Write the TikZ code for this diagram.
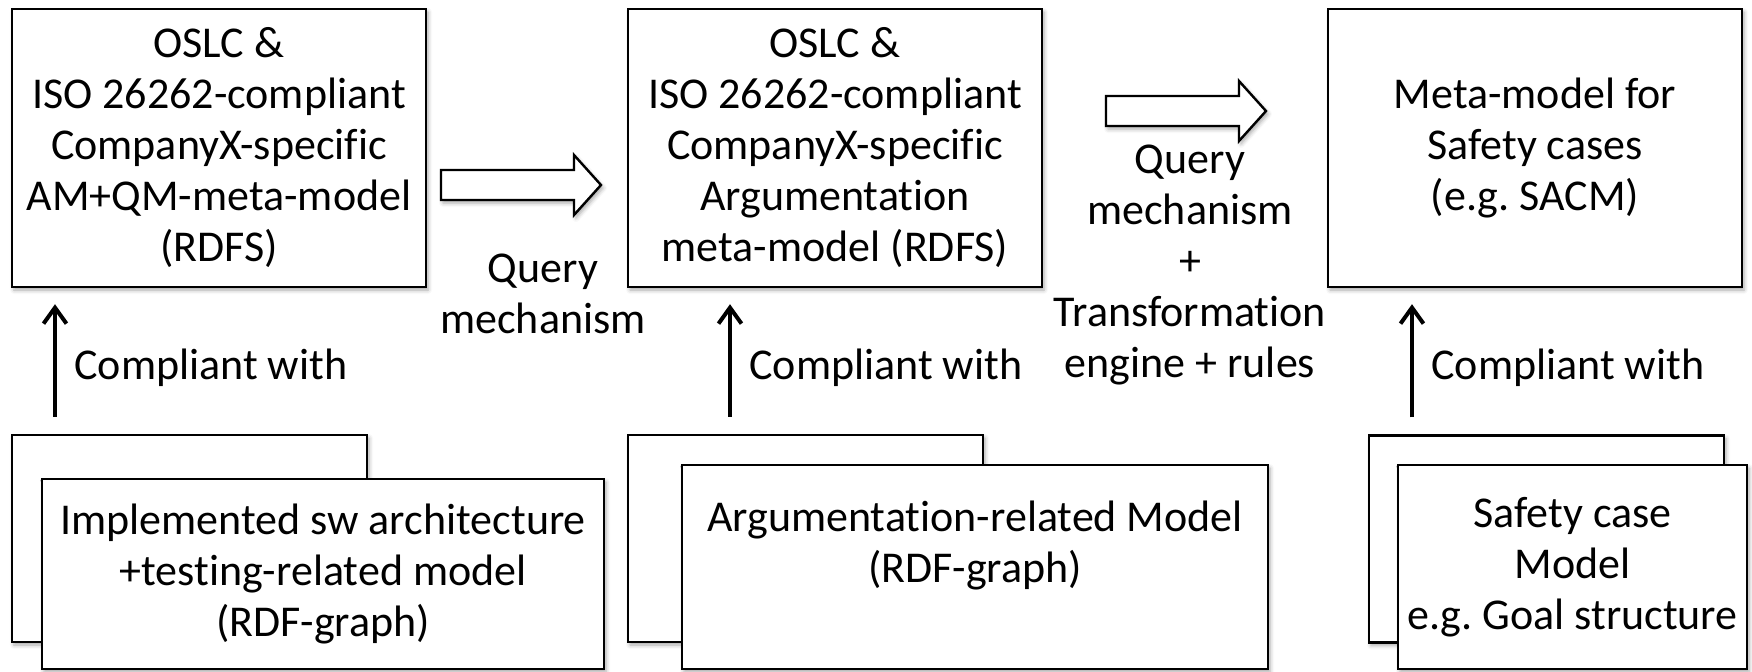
\documentclass[tikz,border=0pt]{standalone}
\usepackage{fontspec}
\setmainfont{Carlito}[Ligatures=NoCommon]
\frenchspacing
\usetikzlibrary{arrows.meta,shadows.blur}
\begin{document}
\begin{tikzpicture}[x=0.5pt,y=-0.5pt,
  every node/.style={font=\fontsize{22}{25.5}\selectfont, align=center, inner sep=0pt},
  softshadow/.style={blur shadow={shadow xshift=1pt, shadow yshift=-1.5pt,
      shadow blur radius=2pt, shadow opacity=35}},
  box/.style={draw=black, line width=1.2pt, fill=white, softshadow},
  meta/.style={box, minimum width=207pt, minimum height=139pt},
  backsheet/.style={box, minimum width=177.5pt, minimum height=103.5pt},
  conn/.style={line width=2pt, -{Straight Barb[length=8pt,width=11.5pt]}},
  lbl/.style={anchor=west},
  blockarrow/.pic={
    \draw[line width=1.2pt, fill=white, softshadow]
      (0,-15) -- (133,-15) -- (133,-30) -- (160,0) -- (133,30)
      -- (133,15) -- (0,15) -- cycle;
  }
]
\useasboundingbox (0,0) rectangle (1752,671);

% meta-models
\node[meta] (m1) at (219,148) {OSLC \&\\ISO 26262-compliant\\CompanyX-specific\\AM+QM-meta-model\\(RDFS)};
\node[meta] (m2) at (835,148) {OSLC \&\\ISO 26262-compliant\\CompanyX-specific\\Argumentation\\meta-model (RDFS)};
\node[meta] (m3) at (1535,148) {Meta-model for\\Safety cases\\(e.g. SACM)};

% transformation arrows between the meta-models
\coordinate (t1) at (441,185);
\coordinate (t2) at (1106,111);
\pic at (t1) {blockarrow};
\pic at (t2) {blockarrow};
\node (q1) at (543,293.5) {Query\\mechanism};
\node (q2) at (1190,264.5) {Query\\mechanism\\+\\Transformation\\engine + rules};

% stacked models
\node[backsheet] (b1) at (189.5,538.5) {};
\node[box, minimum width=281pt, minimum height=95pt] (f1) at (323,574)
  {Implemented sw architecture\\+testing-related model\\(RDF-graph)};
\node[backsheet] (b2) at (805.5,538.5) {};
\node[box, minimum width=293pt, minimum height=102pt] (f2) at (975,567)
  {Argumentation-related Model\\(RDF-graph)\\\mbox{}};
\node[backsheet] (b3) at (1546.5,539) {};
\node[box, minimum width=174.5pt, minimum height=102pt] (f3) at (1572.5,567)
  {Safety case\\Model\\e.g. Goal structure};

% compliance relations
\coordinate (x1) at (55,0);
\coordinate (x2) at (730,0);
\coordinate (x3) at (1412,0);
\draw[conn, shorten <=8.5pt, shorten >=8pt] (b1.north -| x1) -- (m1.south -| x1);
\draw[conn, shorten <=8.5pt, shorten >=8pt] (b2.north -| x2) -- (m2.south -| x2);
\draw[conn, shorten <=8.5pt, shorten >=8pt] (b3.north -| x3) -- (m3.south -| x3);
\node[lbl] (c1) at (74,368) {Compliant with};
\node[lbl] (c2) at (749,368) {Compliant with};
\node[lbl] (c3) at (1431,368) {Compliant with};
\end{tikzpicture}
\end{document}
